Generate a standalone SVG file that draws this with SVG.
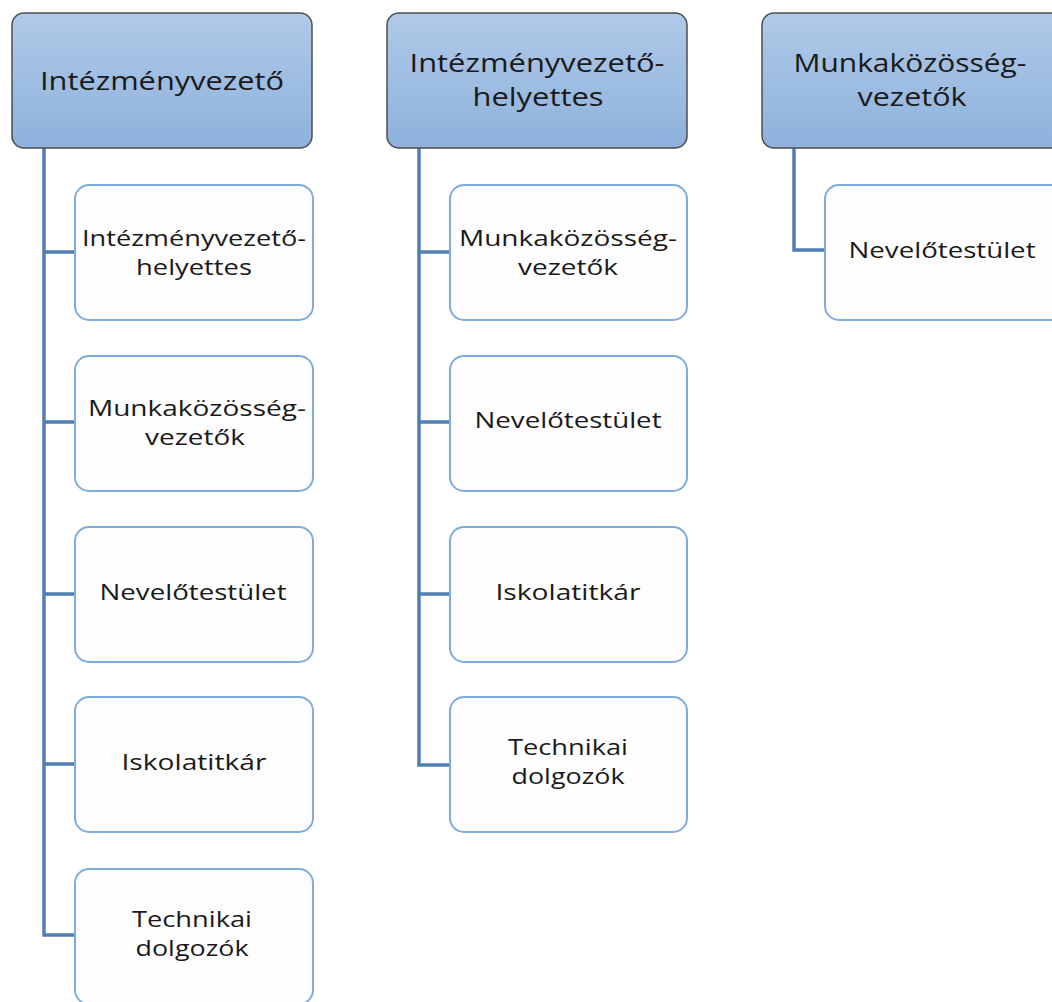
<svg xmlns="http://www.w3.org/2000/svg" width="1052" height="1002" viewBox="0 0 1052 1002">
<defs>
<linearGradient id="hg" x1="0" y1="0" x2="0" y2="1">
<stop offset="0" stop-color="#b0cae8"/>
<stop offset="1" stop-color="#8db1dc"/>
</linearGradient>
<style>
.head{fill:url(#hg);stroke:#4d4d4d;stroke-width:1.5}
.child{fill:#fdfdfd;stroke:#7eaddd;stroke-width:2}
.conn{fill:none;stroke:#4f7fb3;stroke-width:3.5}
.ht{font-family:"Open Sans","DejaVu Sans",sans-serif;font-size:26px;fill:#1a1a1a;text-anchor:middle}
.ct{font-family:"Open Sans","DejaVu Sans",sans-serif;font-size:21px;fill:#1a1a1a;text-anchor:middle}
</style>
</defs>
<rect width="1052" height="1002" fill="#ffffff"/>
<g id="connectors">
<path class="conn" d="M44 148 V935 H75 M44 252 H75 M44 422 H75 M44 594 H75 M44 764 H75"/>
<path class="conn" d="M419 148 V765 H450 M419 252 H450 M419 422 H450 M419 594 H450"/>
<path class="conn" d="M794 148 V250 H825"/>
</g>
<g id="h1"><rect class="head" x="12" y="13" width="300" height="135" rx="12"/><text class="ht" x="162" y="90" textLength="244" lengthAdjust="spacingAndGlyphs">Intézményvezető</text></g>
<g id="h2"><rect class="head" x="387" y="13" width="300" height="135" rx="12"/><text class="ht" x="537" y="72" textLength="255" lengthAdjust="spacingAndGlyphs">Intézményvezető-</text><text class="ht" x="538" y="106" textLength="131" lengthAdjust="spacingAndGlyphs">helyettes</text></g>
<g id="h3"><rect class="head" x="762" y="13" width="310" height="135" rx="12"/><text class="ht" x="910" y="72" textLength="233" lengthAdjust="spacingAndGlyphs">Munkaközösség-</text><text class="ht" x="912" y="106" textLength="109" lengthAdjust="spacingAndGlyphs">vezetők</text></g>
<g id="c1a"><rect class="child" x="75" y="185" width="238" height="135" rx="14"/><text class="ct" x="194" y="246" textLength="224" lengthAdjust="spacingAndGlyphs">Intézményvezető-</text><text class="ct" x="194" y="275" textLength="116" lengthAdjust="spacingAndGlyphs">helyettes</text></g>
<g id="c1b"><rect class="child" x="75" y="356" width="238" height="135" rx="14"/><text class="ct" x="197" y="416" textLength="218" lengthAdjust="spacingAndGlyphs">Munkaközösség-</text><text class="ct" x="195" y="445" textLength="100" lengthAdjust="spacingAndGlyphs">vezetők</text></g>
<g id="c1c"><rect class="child" x="75" y="527" width="238" height="135" rx="14"/><text class="ct" x="193" y="600" textLength="187" lengthAdjust="spacingAndGlyphs">Nevelőtestület</text></g>
<g id="c1d"><rect class="child" x="75" y="697" width="238" height="135" rx="14"/><text class="ct" x="194" y="770" textLength="145" lengthAdjust="spacingAndGlyphs">Iskolatitkár</text></g>
<g id="c1e"><rect class="child" x="75" y="869" width="238" height="135" rx="14"/><text class="ct" x="192" y="927" textLength="120" lengthAdjust="spacingAndGlyphs">Technikai</text><text class="ct" x="192" y="956" textLength="113" lengthAdjust="spacingAndGlyphs">dolgozók</text></g>
<g id="c2a"><rect class="child" x="450" y="185" width="237" height="135" rx="14"/><text class="ct" x="568" y="246" textLength="218" lengthAdjust="spacingAndGlyphs">Munkaközösség-</text><text class="ct" x="568" y="275" textLength="100" lengthAdjust="spacingAndGlyphs">vezetők</text></g>
<g id="c2b"><rect class="child" x="450" y="356" width="237" height="135" rx="14"/><text class="ct" x="568" y="428" textLength="187" lengthAdjust="spacingAndGlyphs">Nevelőtestület</text></g>
<g id="c2c"><rect class="child" x="450" y="527" width="237" height="135" rx="14"/><text class="ct" x="568" y="600" textLength="145" lengthAdjust="spacingAndGlyphs">Iskolatitkár</text></g>
<g id="c2d"><rect class="child" x="450" y="697" width="237" height="135" rx="14"/><text class="ct" x="568" y="755" textLength="120" lengthAdjust="spacingAndGlyphs">Technikai</text><text class="ct" x="568" y="784" textLength="113" lengthAdjust="spacingAndGlyphs">dolgozók</text></g>
<g id="c3a"><rect class="child" x="825" y="185" width="250" height="135" rx="14"/><text class="ct" x="942" y="258" textLength="187" lengthAdjust="spacingAndGlyphs">Nevelőtestület</text></g>
</svg>
